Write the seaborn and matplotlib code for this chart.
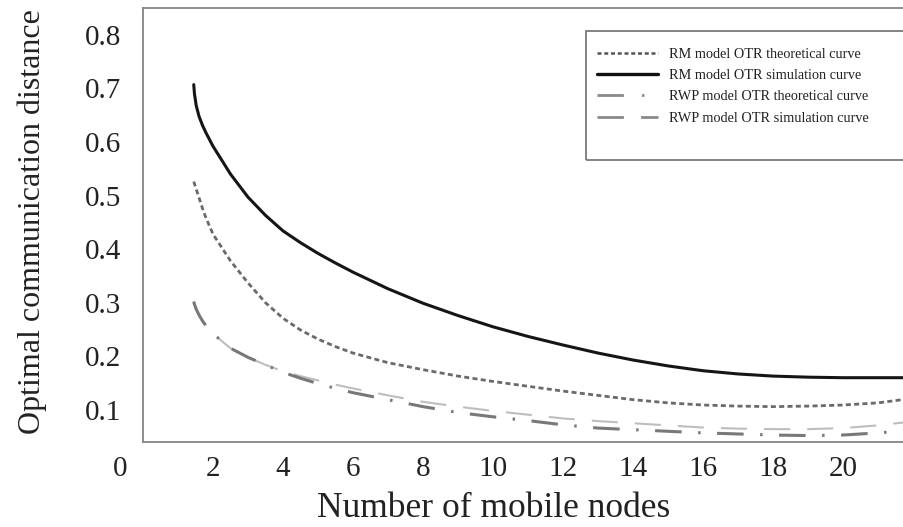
import numpy as np
import pandas as pd
import matplotlib
matplotlib.use("Agg")
import matplotlib.pyplot as plt
import seaborn as sns
from matplotlib.lines import Line2D
from matplotlib.patches import Rectangle
from matplotlib.transforms import ScaledTranslation

# ---- data ----
nodes = [1.45, 1.47, 1.52, 1.6, 1.7, 1.8, 2.0, 2.5, 3.0, 3.5, 4.0, 4.5, 5.0, 5.5, 6.0,
         7.0, 8.0, 9.0, 10.0, 11.0, 12.0, 13.0, 14.0, 15.0, 16.0, 17.0, 18.0, 19.0,
         20.0, 21.0, 21.8]

rm_theoretical = [0.526, 0.522, 0.512, 0.496, 0.476, 0.458, 0.428, 0.378, 0.337, 0.300,
                  0.271, 0.249, 0.232, 0.218, 0.206, 0.188, 0.175, 0.163, 0.153, 0.144,
                  0.135, 0.127, 0.119, 0.113, 0.109, 0.107, 0.106, 0.107, 0.109, 0.113,
                  0.120]
rm_simulation = [0.707, 0.690, 0.668, 0.648, 0.631, 0.617, 0.592, 0.540, 0.497, 0.463,
                 0.434, 0.412, 0.392, 0.374, 0.357, 0.326, 0.299, 0.276, 0.255, 0.237,
                 0.221, 0.206, 0.193, 0.182, 0.173, 0.167, 0.163, 0.161, 0.160, 0.160,
                 0.160]
rwp_theoretical = [0.302, 0.297, 0.288, 0.277, 0.266, 0.257, 0.242, 0.215, 0.198, 0.184,
                   0.170, 0.159, 0.149, 0.140, 0.132, 0.119, 0.106, 0.095, 0.087, 0.080,
                   0.072, 0.066, 0.063, 0.060, 0.057, 0.055, 0.053, 0.052, 0.053, 0.057,
                   0.061]
rwp_simulation = [0.302, 0.297, 0.288, 0.277, 0.266, 0.257, 0.242, 0.215, 0.198, 0.184,
                  0.172, 0.163, 0.155, 0.147, 0.140, 0.127, 0.115, 0.106, 0.098, 0.091,
                  0.084, 0.079, 0.075, 0.071, 0.067, 0.065, 0.064, 0.064, 0.066, 0.071,
                  0.077]

labels = ["RM model OTR theoretical curve", "RM model OTR simulation curve",
          "RWP model OTR theoretical curve", "RWP model OTR simulation curve"]
x_ticks = [0, 2, 4, 6, 8, 10, 12, 14, 16, 18, 20]
y_ticks = [0.1, 0.2, 0.3, 0.4, 0.5, 0.6, 0.7, 0.8]

sns.set_style("white")
plt.rcParams["font.family"] = ["Liberation Serif", "DejaVu Serif"]

W, H = 904, 527
fig = plt.figure(figsize=(W / 100, H / 100), dpi=100)
ax = fig.add_axes([143 / W, 1 - 442 / H, (904 - 143) / W, (442 - 8) / H])

sns.lineplot(x=nodes, y=rwp_simulation, ax=ax, color="#bdbdbd", lw=1.5,
             linestyle=(0, (12.5, 8.2)), sort=False)
sns.lineplot(x=nodes, y=rwp_theoretical, ax=ax, color="#787878", lw=2.2,
             linestyle=(0, (8.7, 5.4, 0.8, 5.4)), sort=False)
sns.lineplot(x=nodes, y=rm_theoretical, ax=ax, color="#6a6a6a", lw=2.0,
             linestyle=(0, (1.8, 1.2)), sort=False)
sns.lineplot(x=nodes, y=rm_simulation, ax=ax, color="#151515", lw=2.2,
             linestyle="-", sort=False)

ax.set_xlim(0, (904 - 143) / 35)
ax.set_ylim(0.04, 0.85)
ax.set_xticks(x_ticks)
ax.set_xticklabels([str(v) for v in x_ticks])
ax.set_yticks(y_ticks)
ax.set_yticklabels([f"{v:.1f}" for v in y_ticks])
ax.tick_params(axis="both", length=0, labelsize=21, colors="#222222")
ax.tick_params(axis="y", pad=16)
ax.tick_params(axis="x", pad=10)

# the "0" label sits left of the axis corner in the reference
lab0 = ax.get_xticklabels()[0]
lab0.set_transform(lab0.get_transform() + ScaledTranslation(-0.23, 0, fig.dpi_scale_trans))

for side in ["left", "bottom", "top"]:
    ax.spines[side].set_color("#858585")
    ax.spines[side].set_linewidth(1.3)
ax.spines["right"].set_visible(False)

ax.set_xlabel("Number of mobile nodes", fontsize=25.5, color="#222222")
ax.set_ylabel("Optimal communication distance", fontsize=23, color="#222222")
ax.xaxis.set_label_coords(494 / W, 1 - 492 / H, transform=fig.transFigure)
ax.yaxis.set_label_coords(47 / W, 1 - 222 / H, transform=fig.transFigure)

# legend
handles = [
    Line2D([], [], color="#555555", lw=1.8, linestyle=(0, (1.6, 1.1))),
    Line2D([], [], color="#111111", lw=2.4, linestyle="-"),
    Line2D([], [], color="#8a8a8a", lw=2.0, linestyle=(0, (9.5, 6.5, 0.9, 20))),
    Line2D([], [], color="#8a8a8a", lw=2.0, linestyle=(0, (9.5, 6.2))),
]
leg = ax.legend(handles, labels, loc="upper left", frameon=False,
                bbox_to_anchor=(597 / W, 1 - 47.5 / H), bbox_transform=fig.transFigure,
                fontsize=10.3, handlelength=4.25, handletextpad=0.8,
                labelspacing=0.59, borderpad=0, borderaxespad=0)
for t in leg.get_texts():
    t.set_color("#222222")
fig.patches.append(Rectangle((586 / W, 1 - 160 / H), (W + 10 - 586) / W, (160 - 30.7) / H,
                             transform=fig.transFigure, fill=False,
                             edgecolor="#7a7a7a", lw=1.3, zorder=5))

fig.savefig("out.png", dpi=100, facecolor="white")
